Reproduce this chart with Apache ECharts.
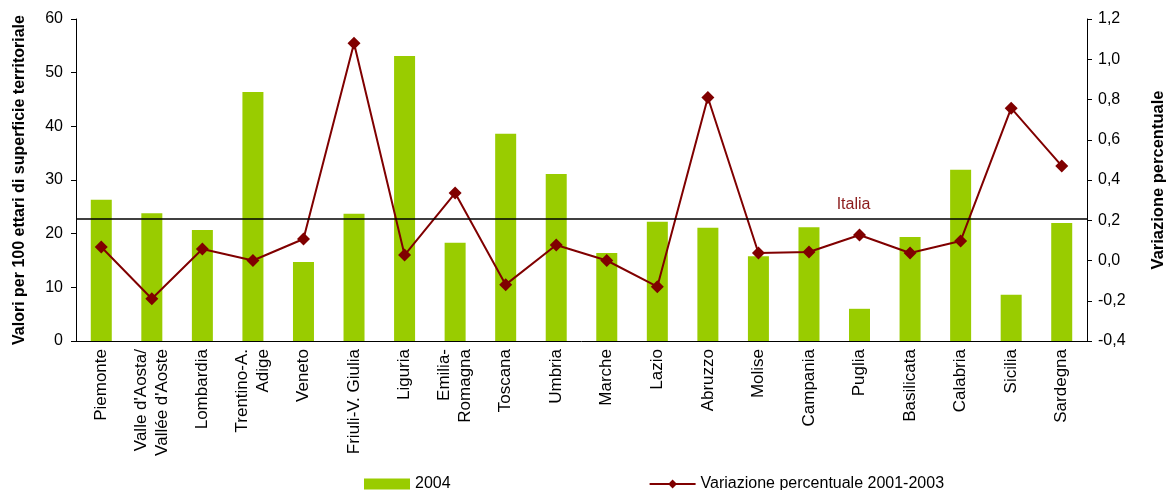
<!DOCTYPE html>
<html>
<head>
<meta charset="utf-8">
<script src="https://cdn.jsdelivr.net/npm/echarts@6/dist/echarts.min.js"></script>
<style>
  html, body { margin: 0; padding: 0; background: #fff; }
  #chart { width: 1166px; height: 490px; }
</style>
</head>
<body>
<div id="chart"></div>
<script>
// regioni
var regioni = ['Piemonte', "Valle d'Aosta/\nVallée d'Aoste", 'Lombardia', 'Trentino-A.\nAdige', 'Veneto',
    'Friuli-V. Giulia', 'Liguria', 'Emilia-\nRomagna', 'Toscana', 'Umbria', 'Marche', 'Lazio', 'Abruzzo',
    'Molise', 'Campania', 'Puglia', 'Basilicata', 'Calabria', 'Sicilia', 'Sardegna'];
// valori per 100 ettari, 2004
var valori2004 = [26.3, 23.8, 20.7, 46.4, 14.7, 23.7, 53.1, 18.3, 38.6, 31.1, 16.4, 22.2, 21.1, 15.8,
    21.2, 6.0, 19.4, 31.9, 8.6, 22.0];
// variazione percentuale 2001-2003
var variazione = [0.067, -0.19, 0.057, 0.0, 0.107, 1.08, 0.027, 0.335, -0.12, 0.077, 0.0, -0.13, 0.81,
    0.037, 0.042, 0.127, 0.037, 0.097, 0.757, 0.47];
// media Italia
var italia = 22.8;

var font = 'Liberation Sans, Arial, sans-serif';
var chart = echarts.init(document.getElementById('chart'));

var option = {
    animation: false,
    textStyle: { fontFamily: font },
    grid: { left: 76, right: 79, top: 19, bottom: 149, containLabel: false, outerBoundsMode: 'none' },
    legend: {
        top: 471,
        left: 359,
        itemGap: 198,
        itemWidth: 46,
        itemHeight: 11,
        textStyle: { fontSize: 16, color: '#000', fontFamily: font },
        data: [
            { name: '2004', icon: 'rect' },
            { name: 'Variazione percentuale 2001-2003' }
        ]
    },
    xAxis: {
        type: 'category',
        data: regioni,
        axisLine: { lineStyle: { color: '#000' } },
        axisTick: { length: 5, lineStyle: { color: '#000' } },
        axisLabel: { rotate: 90, interval: 0, color: '#000', fontSize: 17, lineHeight: 21, margin: 8 }
    },
    yAxis: [
        {
            type: 'value', min: 0, max: 60, interval: 10,
            name: 'Valori per 100 ettari di superficie territoriale',
            nameLocation: 'middle', nameGap: 48,
            nameTextStyle: { fontWeight: 'bold', fontSize: 16, color: '#000' },
            axisLine: { show: true, lineStyle: { color: '#000' } },
            axisTick: { show: true, length: 5, lineStyle: { color: '#000' } },
            axisLabel: { color: '#000', fontSize: 16, margin: 13 },
            splitLine: { show: false }
        },
        {
            type: 'value', min: -0.4, max: 1.2, interval: 0.2,
            name: 'Variazione percentuale',
            nameLocation: 'middle', nameGap: 63, nameRotate: 90,
            nameTextStyle: { fontWeight: 'bold', fontSize: 16.5, color: '#000' },
            axisLine: { show: true, lineStyle: { color: '#000' } },
            axisTick: { show: true, length: 5, lineStyle: { color: '#000' } },
            axisLabel: {
                color: '#000', fontSize: 16, margin: 11,
                formatter: function (v) { return v.toFixed(1).replace('.', ','); }
            },
            splitLine: { show: false }
        }
    ],
    series: [
        {
            name: '2004',
            type: 'bar',
            barWidth: 21,
            itemStyle: { color: '#99CC00' },
            data: valori2004,
            markLine: {
                silent: true,
                symbol: 'none',
                lineStyle: { color: '#000', width: 1.5, type: 'solid' },
                label: { show: false },
                data: [{ yAxis: italia }]
            }
        },
        {
            name: 'Variazione percentuale 2001-2003',
            type: 'line',
            yAxisIndex: 1,
            symbol: 'diamond',
            symbolSize: 13,
            lineStyle: { color: '#800000', width: 2 },
            itemStyle: { color: '#800000' },
            data: variazione
        }
    ]
};
chart.setOption(option);

// etichetta "Italia" sopra la linea della media
var pos = chart.convertToPixel({ xAxisIndex: 0, yAxisIndex: 0 }, ['Puglia', italia]);
chart.setOption({
    graphic: [{
        type: 'text',
        x: pos[0] - 6,
        y: pos[1] - 6,
        style: { text: 'Italia', fill: '#8B1A1A', font: '16px ' + font, align: 'center', verticalAlign: 'bottom' }
    }]
});
</script>
</body>
</html>
